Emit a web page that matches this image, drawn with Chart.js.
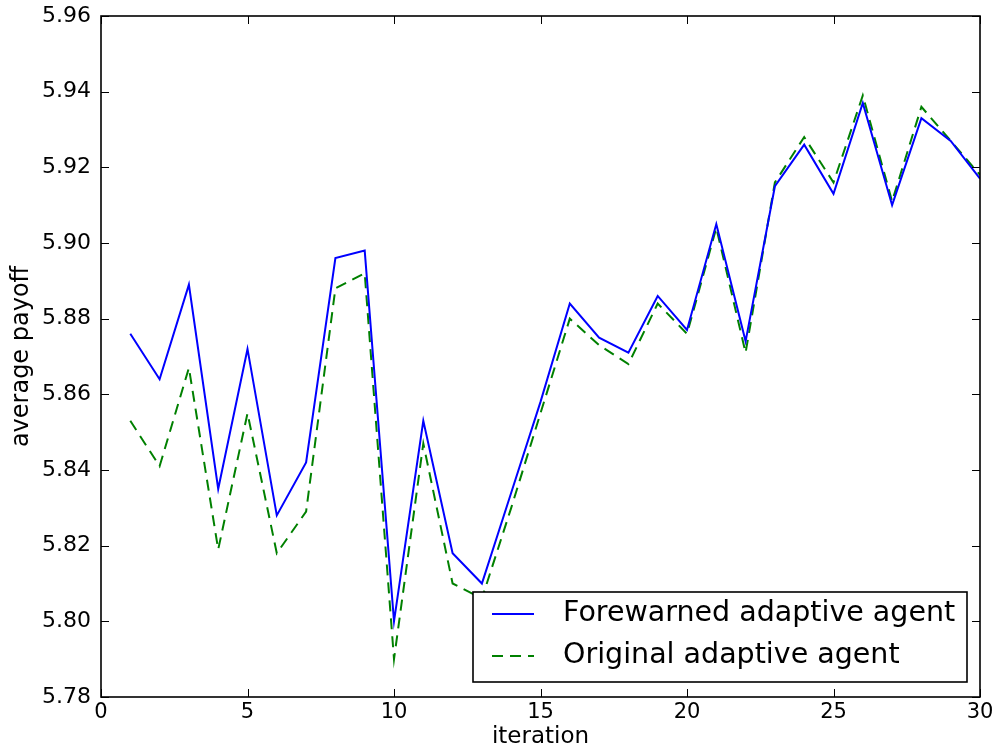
<!DOCTYPE html>
<html>
<head>
<meta charset="utf-8">
<script src="https://cdn.jsdelivr.net/npm/chart.js@4/dist/chart.umd.min.js"></script>
<style>
  html, body { margin: 0; padding: 0; background: #ffffff; }
  #wrap { width: 996px; height: 751px; position: relative; }
</style>
</head>
<body>
<div id="wrap"><canvas id="c" width="996" height="751"></canvas></div>
<script>
const iterations = [1,2,3,4,5,6,7,8,9,10,11,12,13,14,15,16,17,18,19,20,21,22,23,24,25,26,27,28,29,30];
const forewarned = [5.876,5.864,5.889,5.835,5.872,5.828,5.842,5.896,5.898,5.800,5.853,5.818,5.810,5.834,5.858,5.884,5.875,5.871,5.886,5.877,5.905,5.874,5.915,5.926,5.913,5.937,5.910,5.933,5.927,5.917];
const original   = [5.853,5.841,5.867,5.819,5.855,5.818,5.829,5.888,5.892,5.790,5.847,5.810,5.806,5.830,5.855,5.880,5.873,5.868,5.884,5.876,5.904,5.871,5.916,5.928,5.916,5.939,5.911,5.936,5.927,5.918];
const seriesNames = ["Forewarned adaptive agent", "Original adaptive agent"];
const xTicks = [0,5,10,15,20,25,30];
const yTicks = [5.78,5.80,5.82,5.84,5.86,5.88,5.90,5.92,5.94,5.96];

const FONT = "'DejaVu Sans', sans-serif";
const BLUE = "#0000ff";
const GREEN = "#008000";
const DASH = [11, 7];

const toPts = (vals) => vals.map((v, i) => ({ x: iterations[i], y: v }));

const framePlugin = {
  id: 'frame',
  afterDatasetsDraw(chart) {
    const ctx = chart.ctx;
    const a = chart.chartArea;
    const xs = chart.scales.x, ys = chart.scales.y;
    ctx.save();
    ctx.strokeStyle = '#000';
    ctx.lineWidth = 1;
    const tl = 8;
    xTicks.forEach(t => {
      const px = Math.round(xs.getPixelForValue(t)) + 0.5;
      ctx.beginPath();
      ctx.moveTo(px, a.bottom); ctx.lineTo(px, a.bottom - tl);
      ctx.moveTo(px, a.top); ctx.lineTo(px, a.top + tl);
      ctx.stroke();
    });
    yTicks.forEach(t => {
      const py = Math.round(ys.getPixelForValue(t)) + 0.5;
      ctx.beginPath();
      ctx.moveTo(a.left, py); ctx.lineTo(a.left + tl, py);
      ctx.moveTo(a.right, py); ctx.lineTo(a.right - tl, py);
      ctx.stroke();
    });
    ctx.lineWidth = 1.6;
    ctx.strokeRect(a.left, a.top, a.right - a.left, a.bottom - a.top);
    ctx.restore();
  },
  afterDraw(chart) {
    const ctx = chart.ctx;
    const a = chart.chartArea;
    const bx = a.right - 507, by = a.bottom - 105, bw = 494, bh = 90;
    ctx.save();
    ctx.fillStyle = '#fff';
    ctx.fillRect(bx, by, bw, bh);
    ctx.strokeStyle = '#000';
    ctx.lineWidth = 1.6;
    ctx.strokeRect(bx, by, bw, bh);
    const rows = [
      { y: by + 22, color: BLUE, dash: [] , label: seriesNames[0] },
      { y: by + 64, color: GREEN, dash: DASH, label: seriesNames[1] }
    ];
    ctx.font = "28.5px " + FONT;
    ctx.textBaseline = 'middle';
    ctx.textAlign = 'left';
    rows.forEach(r => {
      ctx.beginPath();
      ctx.setLineDash(r.dash);
      ctx.strokeStyle = r.color;
      ctx.lineWidth = 2;
      ctx.moveTo(bx + 19, r.y);
      ctx.lineTo(bx + 61, r.y);
      ctx.stroke();
      ctx.setLineDash([]);
      ctx.fillStyle = '#000';
      ctx.fillText(r.label, bx + 90, r.y);
    });
    ctx.restore();
  }
};

new Chart(document.getElementById('c'), {
  type: 'line',
  data: {
    datasets: [
      { label: seriesNames[0], data: toPts(forewarned), borderColor: BLUE, borderWidth: 2, pointRadius: 0, fill: false, tension: 0 },
      { label: seriesNames[1], data: toPts(original), borderColor: GREEN, borderWidth: 2, borderDash: DASH, pointRadius: 0, fill: false, tension: 0 }
    ]
  },
  options: {
    responsive: false,
    animation: false,
    events: [],
    layout: { padding: { top: 16, right: 16, left: 0, bottom: 0 } },
    plugins: { legend: { display: false }, tooltip: { enabled: false } },
    scales: {
      x: {
        type: 'linear', min: 0, max: 30,
        afterBuildTicks: (s) => { s.ticks = xTicks.map(v => ({ value: v })); },
        afterFit: (s) => { s.height = 54; s.paddingLeft = 0; s.paddingRight = 0; },
        grid: { display: false, drawTicks: false },
        border: { display: false },
        ticks: { color: '#000', font: { family: FONT, size: 21 }, padding: 3, maxRotation: 0, autoSkip: false },
        title: { display: true, text: 'iteration', color: '#000', font: { family: FONT, size: 23 }, padding: { top: 0, bottom: 0 } }
      },
      y: {
        type: 'linear', min: 5.78, max: 5.96,
        afterBuildTicks: (s) => { s.ticks = yTicks.map(v => ({ value: v })); },
        afterFit: (s) => { s.width = 101; s.paddingTop = 0; s.paddingBottom = 0; },
        grid: { display: false, drawTicks: false },
        border: { display: false },
        ticks: { color: '#000', font: { family: FONT, size: 22 }, padding: 10, autoSkip: false, callback: (v) => Number(v).toFixed(2) },
        title: { display: true, text: 'average payoff', color: '#000', font: { family: FONT, size: 24 }, padding: { top: 7, bottom: 0 } }
      }
    }
  },
  plugins: [framePlugin]
});
</script>
</body>
</html>
